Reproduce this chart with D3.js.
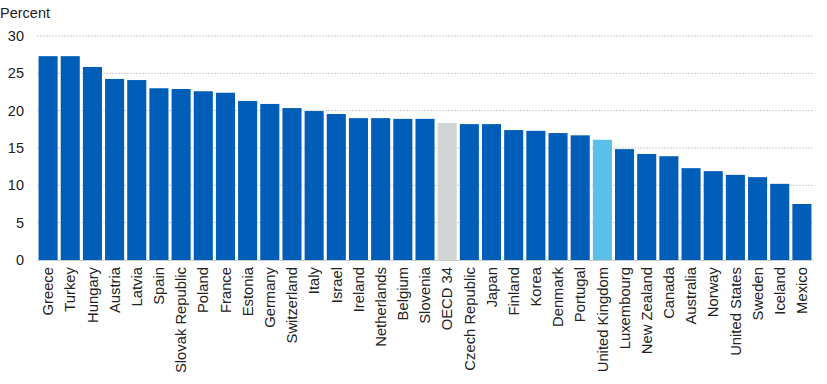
<!DOCTYPE html>
<html>
<head>
<meta charset="utf-8">
<script src="https://cdn.jsdelivr.net/npm/d3@7"></script>
<style>
  body { margin: 0; background: #fff; }
  svg text { font-family: "Liberation Sans", Arial, sans-serif; fill: #222; }
</style>
</head>
<body>
<div id="chart"></div>
<script>
// Data
const countries = ["Greece", "Turkey", "Hungary", "Austria", "Latvia", "Spain", "Slovak Republic",
  "Poland", "France", "Estonia", "Germany", "Switzerland", "Italy", "Israel", "Ireland",
  "Netherlands", "Belgium", "Slovenia", "OECD 34", "Czech Republic", "Japan", "Finland",
  "Korea", "Denmark", "Portugal", "United Kingdom", "Luxembourg", "New Zealand", "Canada",
  "Australia", "Norway", "United States", "Sweden", "Iceland", "Mexico"]
const values = [27.3, 27.3, 25.85, 24.25, 24.1, 23.0, 22.9,
  22.6, 22.4, 21.3, 20.9, 20.35, 19.95, 19.55, 19.0,
  19.0, 18.9, 18.9, 18.35, 18.2, 18.2, 17.4,
  17.3, 17.0, 16.7, 16.1, 14.85, 14.2, 13.9,
  12.3, 11.9, 11.4, 11.1, 10.2, 7.5]
const yTicks = [0, 5, 10, 15, 20, 25, 30]

/**
 * Sizes
 */
const width = 827, height = 384
const plot = { left: 37, right: 813, top: 36, bottom: 260 }

const svg = d3.select("#chart")
  .append("svg")
    .attr("width", width)
    .attr("height", height)

const x = d3.scaleBand()
  .domain(countries)
  .range([plot.left, plot.right])
  .paddingInner(0.14)
  .paddingOuter(0.07)

const y = d3.scaleLinear()
  .domain([0, 30])
  .range([plot.bottom, plot.top])

// gridlines
svg.append("g")
  .selectAll("line")
  .data(yTicks.filter(t => t > 0))
  .enter()
  .append("line")
    .attr("x1", plot.left)
    .attr("x2", plot.right)
    .attr("y1", d => y(d))
    .attr("y2", d => y(d))
    .attr("stroke", "#cfcfcf")
    .attr("stroke-dasharray", "2,1")

// y axis labels
const yAxis = svg.append("g")
  .attr("transform", "translate(" + plot.left + ",0)")
  .call(d3.axisLeft(y).tickValues(yTicks).tickSize(0).tickPadding(13))
yAxis.select(".domain").remove()
yAxis.selectAll("text")
  .style("font-size", "14.5px")
  .attr("fill", "#222")

svg.append("text")
  .attr("x", 0)
  .attr("y", 18)
  .style("font-size", "14.5px")
  .text("Percent")

// bars
const colorFor = d => d === "OECD 34" ? "#d1d5d5" : (d === "United Kingdom" ? "#5bc0e8" : "#005eb8")

svg.append("g")
  .selectAll("rect")
  .data(countries)
  .enter()
  .append("rect")
    .attr("x", d => x(d))
    .attr("width", x.bandwidth())
    .attr("y", (d, i) => y(values[i]))
    .attr("height", (d, i) => y(0) - y(values[i]))
    .attr("fill", d => colorFor(d))

// x axis baseline + labels
const xAxis = svg.append("g")
  .attr("transform", "translate(0," + plot.bottom + ")")
  .call(d3.axisBottom(x).tickSize(0).tickPadding(0))
xAxis.select(".domain")
  .attr("stroke", "#cfcfcf")
xAxis.selectAll("text")
  .style("font-size", "14.8px")
  .attr("fill", "#222")
  .attr("text-anchor", "end")
  .attr("dy", "0.35em")
  .attr("transform", "translate(0,7) rotate(-90)")
</script>
</body>
</html>
